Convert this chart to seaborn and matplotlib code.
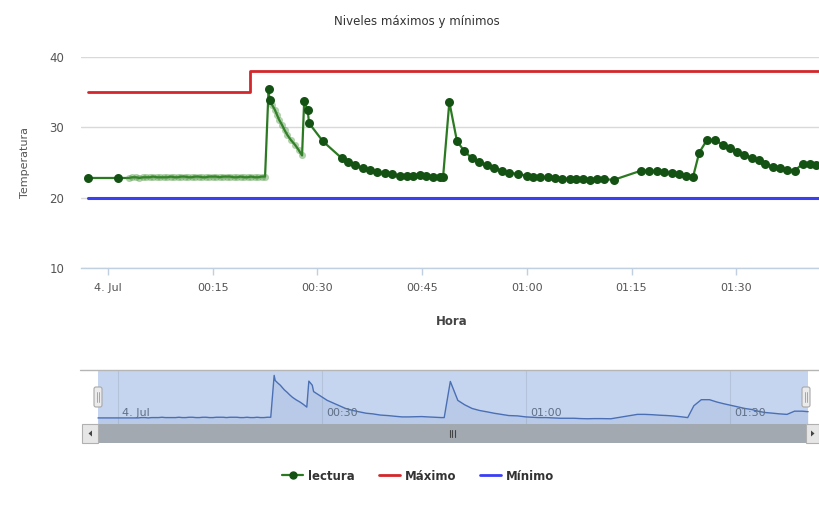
import numpy as np
import pandas as pd
import matplotlib
matplotlib.use('Agg')
import matplotlib.pyplot as plt
import matplotlib.dates as mdates
from matplotlib.lines import Line2D
from matplotlib.patches import Rectangle, FancyBboxPatch, Polygon
import seaborn as sns

sns.set_theme(style='white')
plt.rcParams['font.family'] = ['DejaVu Sans']

# --- data (minutes after 00:00 on 4 July) ---
lectura_min = [
    -2.9, 1.4,
    3.0, 3.5, 4.0, 4.5, 5.0, 5.5, 6.0, 6.5, 7.0, 7.5,
    8.0, 8.5, 9.0, 9.5, 10.0, 10.5, 11.0, 11.5, 12.0, 12.5,
    13.0, 13.5, 14.0, 14.5, 15.0, 15.5, 16.0, 16.5, 17.0, 17.5,
    18.0, 18.5, 19.0, 19.5, 20.0, 20.5, 21.0, 21.5, 22.0, 22.5,
    23.0, 23.15, 23.5, 23.9, 24.2, 24.5, 24.9, 25.3, 25.7, 26.2, 26.8, 27.3, 27.8,
    28.1, 28.6, 28.8, 30.8, 33.5, 34.4, 35.4, 36.5, 37.5, 38.6, 39.7, 40.7,
    41.8, 42.8, 43.7, 44.7, 45.6, 46.6, 47.6, 48.0, 48.9, 50.0, 51.0, 52.1,
    53.2, 54.3, 55.3, 56.4, 57.5, 58.8, 60.0, 60.9, 61.9, 63.0, 64.0, 65.1,
    66.2, 67.1, 68.1, 69.1, 70.0, 71.0, 72.5, 76.4, 77.5, 78.6, 79.7, 80.8,
    81.8, 82.8, 83.8, 84.7, 85.8, 87.0, 88.1, 89.1, 90.1, 91.1, 92.2, 93.2,
    94.1, 95.2, 96.3, 97.3, 98.4, 99.5, 100.6, 101.5,
]
lectura_val = [
    22.8, 22.8,
    22.8, 22.9, 22.9, 22.8, 22.9, 22.9, 22.9, 23.0, 22.9, 22.9,
    22.9, 22.9, 23.0, 22.9, 22.9, 23.0, 23.0, 22.9, 22.9, 23.0,
    23.0, 22.9, 22.9, 23.0, 23.0, 23.0, 22.9, 23.0, 23.0, 23.0,
    22.9, 22.9, 23.0, 22.9, 22.9, 23.0, 22.9, 22.9, 23.0, 23.0,
    35.4, 33.9, 33.2, 32.5, 31.8, 31.1, 30.4, 29.6, 28.9, 28.2, 27.5, 26.8, 26.0,
    33.7, 32.5, 30.6, 28.0, 25.6, 25.1, 24.65, 24.2, 24.0, 23.65, 23.5, 23.3,
    23.1, 23.1, 23.15, 23.2, 23.1, 23.0, 22.9, 22.9, 33.6, 28.0, 26.7, 25.6,
    25.0, 24.6, 24.2, 23.85, 23.5, 23.4, 23.1, 23.0, 22.9, 22.9, 22.8, 22.7,
    22.7, 22.7, 22.6, 22.55, 22.6, 22.6, 22.55, 23.85, 23.85, 23.75, 23.6, 23.5,
    23.35, 23.15, 22.9, 26.4, 28.2, 28.2, 27.5, 27.0, 26.55, 26.1, 25.6, 25.3,
    24.8, 24.4, 24.2, 24.0, 23.85, 24.8, 24.8, 24.65,
]
maximo_min = [-2.9, 20.3, 101.9]
maximo_val = [35, 38, 38]
minimo_min = [-2.9, 101.9]
minimo_val = [20, 20]

# time windows where the readings are dense and drawn faded
denso_desde = [2.0, 23.3]
denso_hasta = [22.8, 27.9]

base = pd.Timestamp('2014-07-04 00:00')
def to_time(m):
    return base + pd.to_timedelta(np.asarray(m, dtype=float), unit='m')

df = pd.DataFrame({'hora': to_time(lectura_min), 'temp': lectura_val,
                   'min': lectura_min})
denso = np.zeros(len(df), dtype=bool)
for a, b in zip(denso_desde, denso_hasta):
    denso |= (df['min'] > a) & (df['min'] < b)
df_max = pd.DataFrame({'hora': to_time(maximo_min), 'temp': maximo_val})
df_min = pd.DataFrame({'hora': to_time(minimo_min), 'temp': minimo_val})

GREEN_LINE = '#2b7a22'
GREEN_MK = '#145214'
RED = '#d3272c'
BLUE = '#3a3ff2'

W, H = 819, 511
fig = plt.figure(figsize=(W / 100, H / 100), dpi=100)

def box(x0, y0, x1, y1):
    return [x0 / W, 1 - y1 / H, (x1 - x0) / W, (y1 - y0) / H]

# --- main chart ---
ax = fig.add_axes(box(81, 57, 819, 268))
sns.lineplot(data=df_max, x='hora', y='temp', ax=ax, color=RED, lw=2.0,
             drawstyle='steps-post', estimator=None)
sns.lineplot(data=df_min, x='hora', y='temp', ax=ax, color=BLUE, lw=2.2,
             estimator=None)
sns.lineplot(data=df, x='hora', y='temp', ax=ax, color=GREEN_LINE, lw=1.6,
             estimator=None, sort=False)
sns.scatterplot(data=df[denso], x='hora', y='temp', ax=ax, color='#3d8a30',
                s=26, alpha=0.4, linewidth=0, zorder=4)
sns.scatterplot(data=df[~denso], x='hora', y='temp', ax=ax, color=GREEN_MK,
                s=42, linewidth=0, zorder=5)

ax.set_xlim(to_time(-3.87), to_time(101.86))
ax.set_ylim(10, 40)
ax.set_yticks([10, 20, 30, 40])
ax.yaxis.grid(True, color='#d9d9d9', lw=1)
for s in ['left', 'right', 'top']:
    ax.spines[s].set_visible(False)
ax.spines['bottom'].set_color('#c0d0e0')
ax.spines['bottom'].set_linewidth(1)
ax.xaxis.set_major_locator(mdates.MinuteLocator(byminute=[0, 15, 30, 45]))
ax.xaxis.set_major_formatter(plt.FuncFormatter(
    lambda v, p: '4. Jul' if mdates.num2date(v).strftime('%H:%M') == '00:00'
    else mdates.num2date(v).strftime('%H:%M')))
ax.tick_params(axis='x', length=5, width=1, color='#c0d0e0', pad=6,
               labelsize=8, labelcolor='#555555', bottom=True)
ax.tick_params(axis='y', length=0, pad=12, labelsize=8.5, labelcolor='#555555')
ax.set_xlabel('Hora', fontsize=8.5, fontweight='bold', color='#444444')
ax.xaxis.set_label_coords(0.503, -0.225)
ax.set_ylabel('Temperatura', fontsize=8, color='#555555')
ax.yaxis.set_label_coords(-0.069, 0.5)

fig.text(417 / W, 1 - 22 / H, 'Niveles máximos y mínimos', ha='center',
         va='center', fontsize=8.5, color='#333333')

# --- navigator ---
nav = fig.add_axes(box(82, 371, 819, 424))
nav.axvspan(df['hora'].iloc[0], df['hora'].iloc[-1], color='#c6d5ef', lw=0,
            zorder=0)
nav.fill_between(df['hora'], df['temp'], 21.0, color='#4572a7', alpha=0.10,
                 lw=0, zorder=1)
sns.lineplot(data=df, x='hora', y='temp', ax=nav, color='#4a6fb5', lw=1.0,
             estimator=None, sort=False, zorder=2)
nav.set_xlim(to_time(-5.25), to_time(103.1))
nav.set_ylim(21.0, 36.7)
nav_ticks = [0, 30, 60, 90]
nav_labels = ['4. Jul', '00:30', '01:00', '01:30']
for m, lab in zip(nav_ticks, nav_labels):
    t = to_time(m)
    nav.axvline(t, color='#b5c3da', lw=0.8, zorder=0.5)
    nav.text(t + pd.Timedelta(minutes=0.6), 0.2, lab,
             transform=nav.get_xaxis_transform(), fontsize=8, color='#5f6f86',
             va='center', ha='left', zorder=3)
nav.set_xticks([])
nav.set_yticks([])
nav.set_xlabel('')
nav.set_ylabel('')
for s in nav.spines.values():
    s.set_visible(False)

# --- navigator chrome: outline, handles, scrollbar ---
ui = fig.add_axes([0, 0, 1, 1], zorder=10)
ui.set_xlim(0, W)
ui.set_ylim(H, 0)
ui.axis('off')
ui.patch.set_alpha(0)
ui.plot([80, 819], [370.5, 370.5], color='#b5b5b5', lw=1)
ui.add_patch(Rectangle((98, 424), 708, 19, fc='#a2a9b1', ec='none'))
for x0, w in [(82, 16), (806, 13)]:
    ui.add_patch(Rectangle((x0, 424), w, 19, fc='#e6e6e6', ec='#b0b0b0', lw=0.8))
ui.add_patch(Polygon([[92, 430.5], [92, 436.5], [88.5, 433.5]], closed=True,
                     fc='#444444', ec='none'))
ui.add_patch(Polygon([[811, 430.5], [811, 436.5], [814.5, 433.5]], closed=True,
                     fc='#444444', ec='none'))
for gx in [449.5, 452, 454.5]:
    ui.plot([gx, gx], [430, 437.5], color='#444444', lw=0.8)
for hx in [98, 806]:
    ui.add_patch(FancyBboxPatch((hx - 4, 387), 8, 20,
                                boxstyle='round,pad=0,rounding_size=2',
                                fc='#ebebeb', ec='#a8a8a8', lw=0.8))
    for dx in [-1.2, 1.2]:
        ui.plot([hx + dx, hx + dx], [392, 402], color='#9a9a9a', lw=0.6)

# --- legend ---
handles = [
    Line2D([], [], color=GREEN_LINE, lw=1.6, marker='o', markersize=5,
           markerfacecolor=GREEN_MK, markeredgecolor=GREEN_MK),
    Line2D([], [], color=RED, lw=2),
    Line2D([], [], color=BLUE, lw=2),
]
fig.legend(handles, ['lectura', 'Máximo', 'Mínimo'], loc='center',
           bbox_to_anchor=(418 / W, 1 - 476 / H), ncol=3, frameon=False,
           handlelength=1.8, handletextpad=0.4, columnspacing=2.0,
           prop={'weight': 'bold', 'size': 8.5}, labelcolor='#333333')

fig.savefig('out.png', dpi=100)
